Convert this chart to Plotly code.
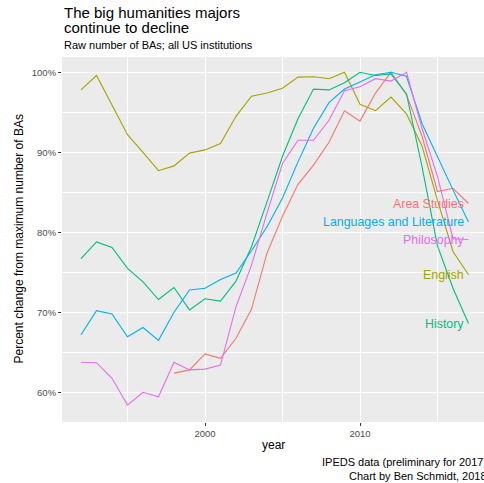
import plotly.graph_objects as go

years = list(range(1992, 2018))

area_studies = [None, None, None, None, None, None,
                62.4, 62.8, 64.8, 64.25, 66.75, 70.4, 77.4, 82.0, 86.0, 88.4,
                91.25, 95.2, 93.9, 97.4, 100.0, 97.2, 92.0, 85.1, 85.5, 83.6]
english = [97.8, 99.6, 95.9, 92.2, 90.0, 87.7, 88.3, 89.9, 90.3, 91.1,
           94.5, 97.0, 97.4, 98.0, 99.4, 99.45, 99.2, 100.0, 96.0, 95.2,
           96.9, 94.8, 90.8, 84.0, 77.6, 74.7]
history = [76.7, 78.8, 78.1, 75.5, 73.8, 71.6, 73.1, 70.3, 71.7, 71.4,
           73.9, 78.2, 83.8, 89.5, 94.2, 97.9, 97.8, 98.7, 100.0, 99.6,
           99.8, 97.3, 88.2, 78.3, 73.0, 68.6]
languages = [67.2, 70.2, 69.8, 66.95, 68.1, 66.5, 70.0, 72.8, 73.0, 74.1,
             74.9, 77.7, 80.7, 84.3, 88.8, 93.0, 96.2, 97.9, 98.8, 99.7,
             100.0, 99.5, 93.6, 89.4, 85.3, 81.3]
philosophy = [63.75, 63.7, 61.75, 58.4, 60.0, 59.45, 63.75, 62.8, 62.9, 63.4,
              70.7, 75.9, 82.4, 88.6, 91.5, 91.5, 94.0, 97.7, 98.2, 99.2,
              98.9, 100.0, 93.0, 87.0, 79.2, 79.1]

series_names = ["Area Studies", "English", "History", "Languages and Literature", "Philosophy"]
series_values = [area_studies, english, history, languages, philosophy]
series_colors = ["#F8766D", "#A3A500", "#00BF7D", "#00B0F6", "#E76BF3"]

x_ticks = [2000, 2010]
x_minor = [1995, 2005, 2015]
y_ticks = [60, 70, 80, 90, 100]
y_minor = [65, 75, 85, 95]

FONT = "Liberation Sans, Arial, Helvetica, sans-serif"

fig = go.Figure()
for name, vals, col in zip(series_names, series_values, series_colors):
    fig.add_trace(go.Scatter(x=years, y=vals, mode="lines", name=name,
                             line=dict(color=col, width=1.1),
                             connectgaps=False, showlegend=False,
                             hoverinfo="skip"))

annotations = []
for name, vals, col in zip(series_names, series_values, series_colors):
    annotations.append(dict(x=years[-1], y=vals[-1], xref="x", yref="y",
                            text=name, showarrow=False, xanchor="right",
                            yanchor="middle", xshift=-3,
                            font=dict(color=col, size=12.4, family=FONT)))

L, T, PW, PH = 62, 57, 422, 365

def py(p):
    return (T + PH - p) / PH

def px(p):
    return (p - L) / PW

annotations += [
    dict(text="The big humanities majors", x=0, y=py(12.3), xref="paper", yref="paper",
         xanchor="left", yanchor="middle", showarrow=False,
         font=dict(size=15, color="black", family=FONT)),
    dict(text="continue to decline", x=0, y=py(27.6), xref="paper", yref="paper",
         xanchor="left", yanchor="middle", showarrow=False,
         font=dict(size=15, color="black", family=FONT)),
    dict(text="Raw number of BAs; all US institutions", x=0, y=py(45), xref="paper", yref="paper",
         xanchor="left", yanchor="middle", showarrow=False,
         font=dict(size=11, color="black", family=FONT)),
    dict(text="year", x=0.5, y=py(445.5), xref="paper", yref="paper",
         xanchor="center", yanchor="middle", showarrow=False,
         font=dict(size=12, color="black", family=FONT)),
    dict(text="Percent change from maximum number of BAs", x=px(18), y=0.5,
         xref="paper", yref="paper", textangle=-90,
         xanchor="center", yanchor="middle", showarrow=False,
         font=dict(size=12, color="black", family=FONT)),
    dict(text="IPEDS data (preliminary for 2017)", x=px(489), y=py(462), xref="paper", yref="paper",
         xanchor="right", yanchor="middle", showarrow=False,
         font=dict(size=11, color="black", family=FONT)),
    dict(text="Chart by Ben Schmidt, 2018", x=px(489), y=py(476), xref="paper", yref="paper",
         xanchor="right", yanchor="middle", showarrow=False,
         font=dict(size=11, color="black", family=FONT)),
]

fig.update_layout(
    width=484, height=483,
    margin=dict(l=L, r=484 - L - PW, t=T, b=483 - T - PH, pad=0),
    paper_bgcolor="white", plot_bgcolor="#EBEBEB",
    font=dict(family=FONT, color="#4D4D4D"),
    annotations=annotations,
    showlegend=False,
    hovermode=False,
)
fig.update_xaxes(range=[1990.774, 2018.0], tickvals=x_ticks, ticktext=[str(v) for v in x_ticks],
                 showgrid=True, gridcolor="white", gridwidth=1.1,
                 minor=dict(tickvals=x_minor, showgrid=True, gridcolor="white", gridwidth=0.5, ticks=""),
                 ticks="outside", ticklen=3, tickwidth=1, tickcolor="#333333",
                 tickfont=dict(size=9.5, color="#4D4D4D", family=FONT),
                 zeroline=False, showline=False, fixedrange=True)
fig.update_yaxes(range=[56.29, 101.91], tickvals=y_ticks, ticktext=[f"{v}%" for v in y_ticks],
                 showgrid=True, gridcolor="white", gridwidth=1.1,
                 minor=dict(tickvals=y_minor, showgrid=True, gridcolor="white", gridwidth=0.5, ticks=""),
                 ticks="outside", ticklen=3, tickwidth=1, tickcolor="#333333",
                 tickfont=dict(size=9.5, color="#4D4D4D", family=FONT),
                 zeroline=False, showline=False, fixedrange=True)

fig.write_html("out.html", config={"displayModeBar": False},
               post_script="document.body.style.margin='0';document.body.style.overflow='hidden';")
